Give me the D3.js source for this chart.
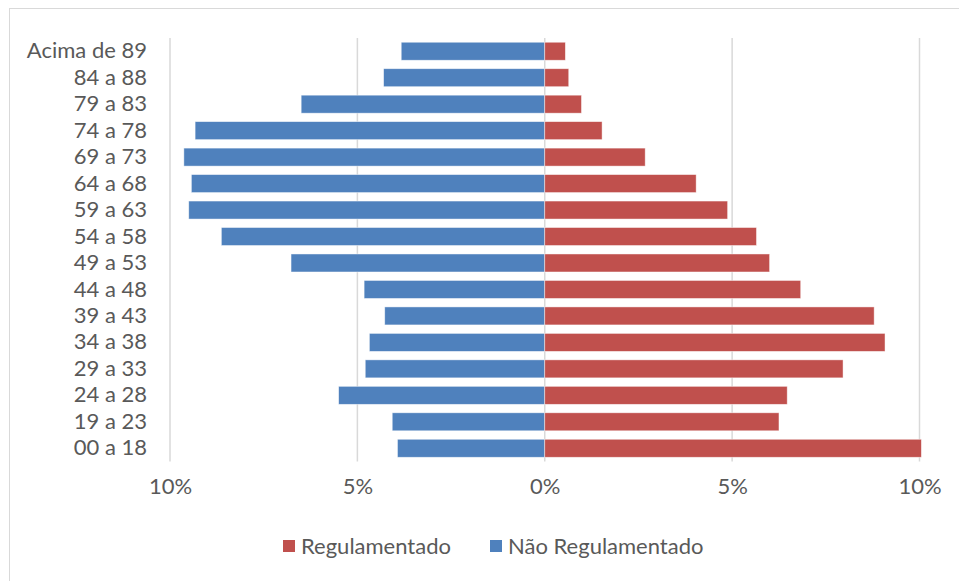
<!DOCTYPE html>
<html lang="pt">
<head>
  <meta charset="UTF-8">
  <title>index</title>
  <style type="text/css">
    body { margin: 0; background: #fff; }
    svg text { font-family: Lato, "Open Sans", sans-serif; fill: #595959; }
  </style>
</head>
<body>
  <svg id="chart" width="959" height="581"></svg>

<script src="https://d3js.org/d3.v7.min.js"></script>
<script>
  // faixas etárias, de cima para baixo
  const categories = ['Acima de 89', '84 a 88', '79 a 83', '74 a 78', '69 a 73', '64 a 68',
    '59 a 63', '54 a 58', '49 a 53', '44 a 48', '39 a 43', '34 a 38', '29 a 33',
    '24 a 28', '19 a 23', '00 a 18']
  // % Não Regulamentado (lado esquerdo)
  const naoRegulamentado = [3.83, 4.30, 6.50, 9.33, 9.63, 9.43, 9.50, 8.63, 6.77, 4.82,
    4.27, 4.68, 4.79, 5.50, 4.07, 3.93]
  // % Regulamentado (lado direito)
  const regulamentado = [0.55, 0.64, 0.98, 1.53, 2.68, 4.04, 4.88, 5.65, 6.00, 6.83,
    8.79, 9.08, 7.96, 6.47, 6.25, 10.05]
  const tickValues = [-10, -5, 0, 5, 10]
  const seriesNames = ['Regulamentado', 'Não Regulamentado']
  const seriesColors = ['#C0504D', '#4F81BD']

  const svg = d3.select('#chart')

  // moldura do gráfico
  svg.append('rect')
    .attr('x', 9.5).attr('y', 8.5)
    .attr('width', 960).attr('height', 590)
    .attr('fill', 'none')
    .attr('stroke', '#D9D9D9')
    .attr('stroke-width', 1)

  const x = d3.scaleLinear().domain([-10, 10]).range([170, 919.5])
  const y = d3.scaleBand().domain(categories).range([38, 461.5])
    .paddingInner(0.32).paddingOuter(0.16)

  // grade vertical
  svg.append('g').selectAll('line')
    .data(tickValues)
    .join('line')
    .attr('x1', d => x(d)).attr('x2', d => x(d))
    .attr('y1', 38).attr('y2', 461.5)
    .attr('stroke', '#D9D9D9')
    .attr('stroke-width', 1.5)

  // barras Não Regulamentado
  svg.append('g').selectAll('rect')
    .data(categories)
    .join('rect')
    .attr('x', (d, i) => x(-naoRegulamentado[i]))
    .attr('y', d => y(d))
    .attr('width', (d, i) => x(0) - x(-naoRegulamentado[i]))
    .attr('height', y.bandwidth())
    .attr('fill', seriesColors[1])
    .attr('stroke', '#fff').attr('stroke-opacity', 0.6).attr('stroke-width', 0.75)

  // barras Regulamentado
  svg.append('g').selectAll('rect')
    .data(categories)
    .join('rect')
    .attr('x', x(0))
    .attr('y', d => y(d))
    .attr('width', (d, i) => x(regulamentado[i]) - x(0))
    .attr('height', y.bandwidth())
    .attr('fill', seriesColors[0])
    .attr('stroke', '#fff').attr('stroke-opacity', 0.6).attr('stroke-width', 0.75)

  // rótulos das categorias
  const yAxis = svg.append('g')
    .attr('transform', 'translate(147,0)')
    .call(d3.axisLeft(y).tickSize(0).tickPadding(0))
  yAxis.select('.domain').remove()
  yAxis.selectAll('text')
    .attr('font-size', 22)
    .attr('font-family', null)
    .attr('fill', null)

  // eixo x (percentuais)
  const xAxis = svg.append('g')
    .attr('transform', 'translate(0,478)')
    .call(d3.axisBottom(x).tickValues(tickValues).tickSize(0).tickPadding(0)
      .tickFormat(d => Math.abs(d) + '%'))
  xAxis.select('.domain').remove()
  xAxis.selectAll('text')
    .attr('font-size', 22)
    .attr('font-family', null)
    .attr('fill', null)

  // legenda
  const legend = svg.append('g').attr('transform', 'translate(283,546)')
  const legendX = [0, 207]
  seriesNames.forEach((name, i) => {
    const g = legend.append('g').attr('transform', 'translate(' + legendX[i] + ',0)')
    g.append('rect')
      .attr('x', 0).attr('y', -6)
      .attr('width', 12).attr('height', 12)
      .attr('fill', seriesColors[i])
    g.append('text')
      .attr('x', 18).attr('dy', '0.35em')
      .attr('font-size', 22)
      .text(name)
  })
</script>
</body>
</html>
